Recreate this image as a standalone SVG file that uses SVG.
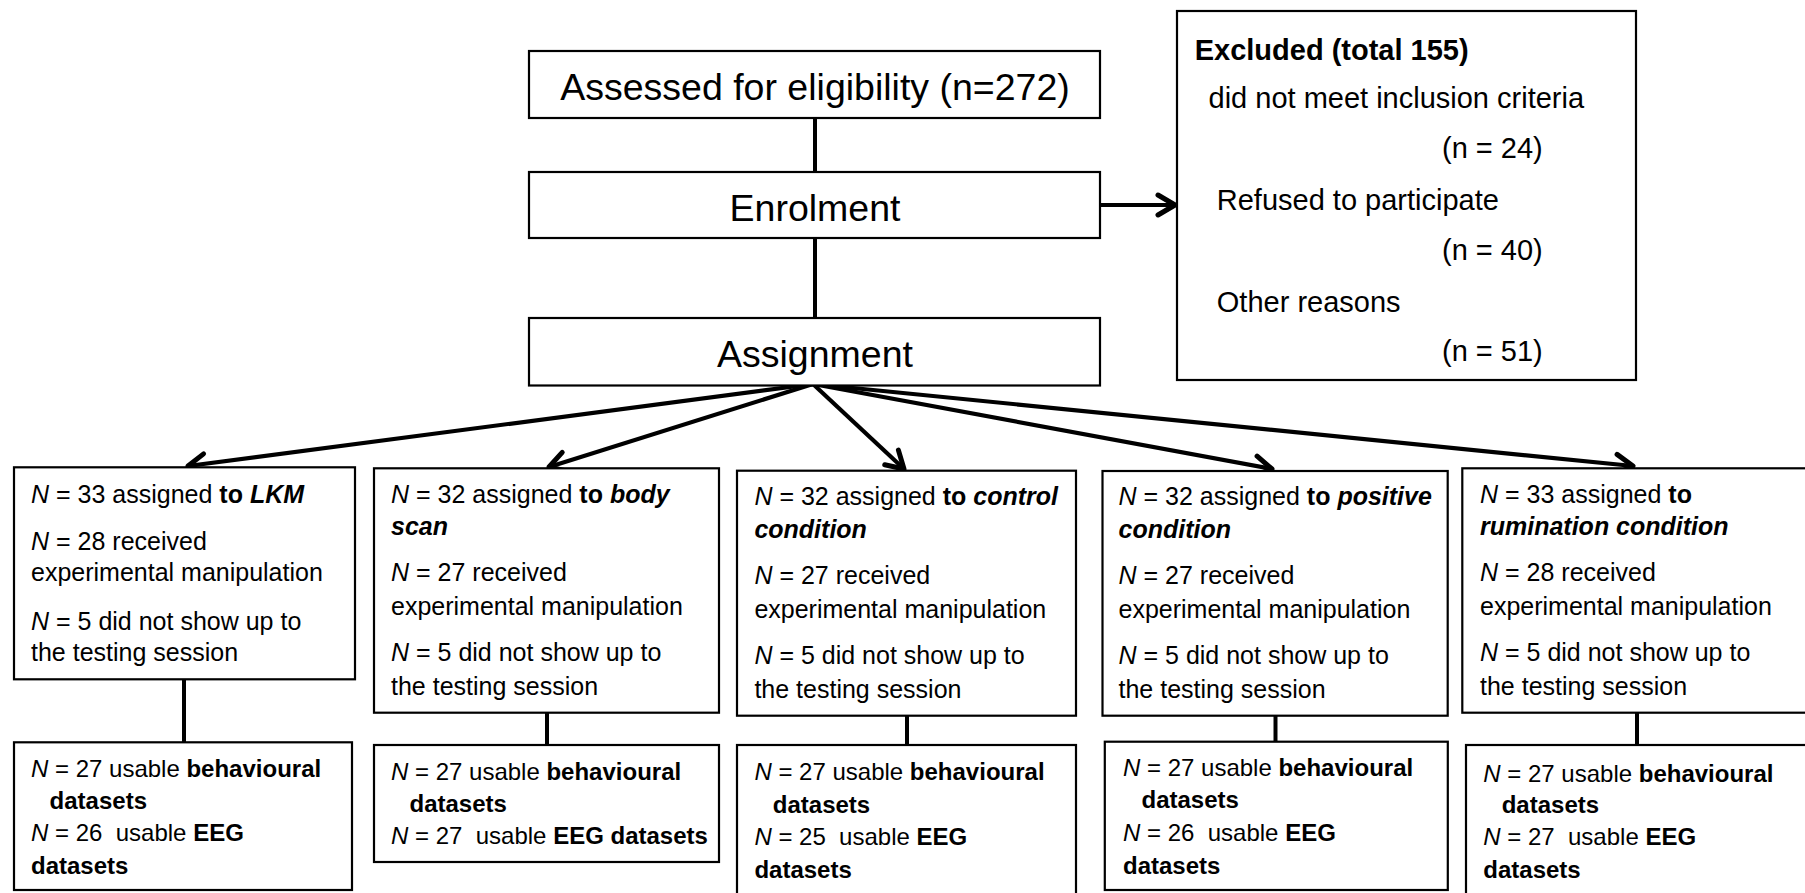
<svg xmlns="http://www.w3.org/2000/svg" width="1805" height="893" viewBox="0 0 1805 893">
<style>
.bg{fill:#fff}
.box{fill:#fff;stroke:#000;stroke-width:2.2}
.t{font-family:"Liberation Sans",Arial,sans-serif;fill:#000}
.big{font-size:37.5px}
.ex{font-size:29px}
.m{font-size:25px}
.r{font-size:24px}
.b{font-weight:bold}
.i{font-style:italic}
.bi{font-weight:bold;font-style:italic}
.ln{stroke:#000;stroke-width:4;fill:none}
.ar{stroke:#000;stroke-width:4.2;fill:none;marker-end:url(#chev)}
</style>
<defs>
<marker id="chev" markerUnits="userSpaceOnUse" markerWidth="28" markerHeight="28" viewBox="0 0 28 28" refX="20" refY="14" orient="auto">
<path d="M3,4 L20,14 L3,24" fill="none" stroke="#000" stroke-width="5" stroke-linecap="round" stroke-linejoin="round"/>
</marker>
</defs>
<rect class="bg" x="0" y="0" width="1805" height="893"/>

<g id="connectors">
<line class="ln" x1="815" y1="118" x2="815" y2="172"/>
<line class="ln" x1="815" y1="238" x2="815" y2="318"/>
<line class="ar" x1="1101" y1="205" x2="1175" y2="205"/>
<line class="ar" x1="813" y1="384" x2="188" y2="466"/>
<line class="ar" x1="813" y1="384" x2="549" y2="467"/>
<line class="ar" x1="813" y1="384" x2="904" y2="469"/>
<line class="ar" x1="813" y1="384" x2="1272" y2="469"/>
<line class="ar" x1="813" y1="384" x2="1633" y2="466"/>
<line class="ln" x1="184" y1="679" x2="184" y2="742"/>
<line class="ln" x1="547" y1="713" x2="547" y2="745"/>
<line class="ln" x1="907" y1="716" x2="907" y2="745"/>
<line class="ln" x1="1275.5" y1="716" x2="1275.5" y2="742"/>
<line class="ln" x1="1637" y1="713" x2="1637" y2="745"/>
</g>

<g id="assessed">
<rect class="box" x="529" y="51" width="571" height="67"/>
<text class="t big" x="815" y="100" text-anchor="middle">Assessed for eligibility (n=272)</text>
</g>

<g id="enrolment">
<rect class="box" x="529" y="172" width="571" height="66"/>
<text class="t big" x="815" y="221" text-anchor="middle">Enrolment</text>
</g>

<g id="assignment">
<rect class="box" x="529" y="318" width="571" height="67.5"/>
<text class="t big" x="815" y="367" text-anchor="middle">Assignment</text>
</g>

<g id="excluded">
<rect class="box" x="1177" y="11" width="459" height="369"/>
<text class="t ex b" x="1194.7" y="60" font-size="28">Excluded (total 155)</text>
<text class="t ex" x="1208.5" y="108">did not meet inclusion criteria</text>
<text class="t ex" x="1442" y="158">(n = 24)</text>
<text class="t ex" x="1216.8" y="210">Refused to participate</text>
<text class="t ex" x="1442" y="260">(n = 40)</text>
<text class="t ex" x="1216.8" y="311.5">Other reasons</text>
<text class="t ex" x="1442" y="360.5">(n = 51)</text>
</g>

<g id="lkm">
<rect class="box" x="14" y="467.3" width="341" height="212"/>
<text class="t m" x="31" y="503.3"><tspan class="i">N</tspan> = 33 assigned <tspan class="b">to </tspan><tspan class="bi">LKM</tspan></text>
<text class="t m" x="31" y="550"><tspan class="i">N</tspan> = 28 received</text>
<text class="t m" x="31" y="581">experimental manipulation</text>
<text class="t m" x="31" y="630"><tspan class="i">N</tspan> = 5 did not show up to</text>
<text class="t m" x="31" y="661">the testing session</text>
</g>

<g id="bodyscan">
<rect class="box" x="374" y="468.3" width="345" height="244.4"/>
<text class="t m" x="391" y="503.3"><tspan class="i">N</tspan> = 32 assigned <tspan class="b">to </tspan><tspan class="bi">body</tspan></text>
<text class="t m bi" x="391" y="535">scan</text>
<text class="t m" x="391" y="580.7"><tspan class="i">N</tspan> = 27 received</text>
<text class="t m" x="391" y="615">experimental manipulation</text>
<text class="t m" x="391" y="661"><tspan class="i">N</tspan> = 5 did not show up to</text>
<text class="t m" x="391" y="695">the testing session</text>
</g>

<g id="control">
<rect class="box" x="737" y="470.7" width="339" height="245"/>
<text class="t m" x="754.4" y="505"><tspan class="i">N</tspan> = 32 assigned <tspan class="b">to </tspan><tspan class="bi">control</tspan></text>
<text class="t m bi" x="754.4" y="538.3">condition</text>
<text class="t m" x="754.4" y="584"><tspan class="i">N</tspan> = 27 received</text>
<text class="t m" x="754.4" y="618.3">experimental manipulation</text>
<text class="t m" x="754.4" y="664.3"><tspan class="i">N</tspan> = 5 did not show up to</text>
<text class="t m" x="754.4" y="698.3">the testing session</text>
</g>

<g id="positive">
<rect class="box" x="1102.5" y="471" width="345.2" height="244.7"/>
<text class="t m" x="1118.5" y="505"><tspan class="i">N</tspan> = 32 assigned <tspan class="b">to </tspan><tspan class="bi">positive</tspan></text>
<text class="t m bi" x="1118.5" y="538.3">condition</text>
<text class="t m" x="1118.5" y="584"><tspan class="i">N</tspan> = 27 received</text>
<text class="t m" x="1118.5" y="618.3">experimental manipulation</text>
<text class="t m" x="1118.5" y="664.3"><tspan class="i">N</tspan> = 5 did not show up to</text>
<text class="t m" x="1118.5" y="698.3">the testing session</text>
</g>

<g id="rumination">
<rect class="box" x="1462.3" y="468.3" width="360" height="244.4"/>
<text class="t m" x="1480" y="503.3"><tspan class="i">N</tspan> = 33 assigned <tspan class="b">to</tspan></text>
<text class="t m bi" x="1480" y="535">rumination condition</text>
<text class="t m" x="1480" y="580.7"><tspan class="i">N</tspan> = 28 received</text>
<text class="t m" x="1480" y="615">experimental manipulation</text>
<text class="t m" x="1480" y="661"><tspan class="i">N</tspan> = 5 did not show up to</text>
<text class="t m" x="1480" y="695">the testing session</text>
</g>

<g id="lkm-data">
<rect class="box" x="14" y="742.3" width="338" height="147.7"/>
<text class="t r" x="31" y="776.7"><tspan class="i">N</tspan> = 27 usable <tspan class="b">behavioural</tspan></text>
<text class="t r b" x="49.6" y="809.3">datasets</text>
<text class="t r" x="31" y="840.7" xml:space="preserve"><tspan class="i">N</tspan> = 26  usable <tspan class="b">EEG</tspan></text>
<text class="t r b" x="31" y="874">datasets</text>
</g>

<g id="bodyscan-data">
<rect class="box" x="374" y="745" width="345" height="117"/>
<text class="t r" x="391" y="780"><tspan class="i">N</tspan> = 27 usable <tspan class="b">behavioural</tspan></text>
<text class="t r b" x="409.5" y="811.7">datasets</text>
<text class="t r" x="391" y="844" xml:space="preserve"><tspan class="i">N</tspan> = 27  usable <tspan class="b">EEG datasets</tspan></text>
</g>

<g id="control-data">
<rect class="box" x="737" y="745" width="339" height="160"/>
<text class="t r" x="754.4" y="780"><tspan class="i">N</tspan> = 27 usable <tspan class="b">behavioural</tspan></text>
<text class="t r b" x="772.8" y="813.3">datasets</text>
<text class="t r" x="754.4" y="845" xml:space="preserve"><tspan class="i">N</tspan> = 25  usable <tspan class="b">EEG</tspan></text>
<text class="t r b" x="754.4" y="878.3">datasets</text>
</g>

<g id="positive-data">
<rect class="box" x="1104.8" y="741.7" width="343" height="148.3"/>
<text class="t r" x="1123" y="776"><tspan class="i">N</tspan> = 27 usable <tspan class="b">behavioural</tspan></text>
<text class="t r b" x="1141.5" y="808.3">datasets</text>
<text class="t r" x="1123" y="840.7" xml:space="preserve"><tspan class="i">N</tspan> = 26  usable <tspan class="b">EEG</tspan></text>
<text class="t r b" x="1123" y="874">datasets</text>
</g>

<g id="rumination-data">
<rect class="box" x="1466" y="745" width="360" height="160"/>
<text class="t r" x="1483.3" y="781.7"><tspan class="i">N</tspan> = 27 usable <tspan class="b">behavioural</tspan></text>
<text class="t r b" x="1501.7" y="812.7">datasets</text>
<text class="t r" x="1483.3" y="845" xml:space="preserve"><tspan class="i">N</tspan> = 27  usable <tspan class="b">EEG</tspan></text>
<text class="t r b" x="1483.3" y="878.3">datasets</text>
</g>
</svg>
